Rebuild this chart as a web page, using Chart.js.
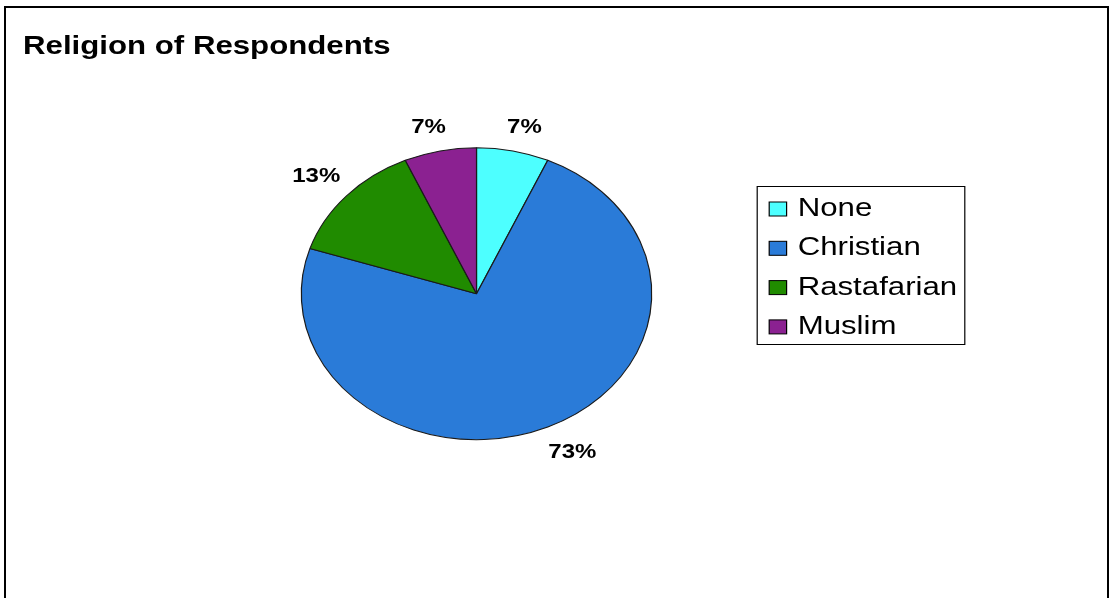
<!DOCTYPE html>
<html>
<head>
<meta charset="utf-8">
<title>Religion of Respondents</title>
<script src="https://cdn.jsdelivr.net/npm/chart.js@4"></script>
<style>
  html, body { margin: 0; padding: 0; background: #fff; overflow: hidden; }
  #frame {
    position: absolute; left: 4px; top: 6px;
    width: 1101px; height: 640px;
    border: 2px solid #000; border-bottom: none;
  }
  #wrap { position: absolute; left: 0; top: 0; width: 1110px; height: 598px; }
</style>
</head>
<body>
<div id="frame"></div>
<div id="wrap"><canvas id="religionChart"></canvas></div>
<script>
// Respondent counts by religion
const religions = ["None", "Christian", "Rastafarian", "Muslim"];
const respondents = [1, 11, 2, 1];
const sliceColors = ["#4dffff", "#2a7bd8", "#208b00", "#8b2191"];
const chartTitle = "Religion of Respondents";

// The whole chart is drawn horizontally stretched, so the pie comes out as an oval
const SX = 1.2;
const FONT = "Arial, 'Liberation Sans', sans-serif";

const clamp = (v) => Math.max(-1, Math.min(1, v));

const stretchAndDecorate = {
  id: "stretchAndDecorate",
  beforeDraw(chart) {
    chart.ctx.save();
    chart.ctx.scale(SX, 1);
  },
  afterDatasetsDraw(chart) {
    // percentage labels just outside each slice, pushed out by half the text box
    const ctx = chart.ctx;
    const meta = chart.getDatasetMeta(0);
    const values = chart.data.datasets[0].data;
    const total = values.reduce((a, b) => a + b, 0);
    ctx.save();
    ctx.font = "bold 20px " + FONT;
    ctx.fillStyle = "#000";
    ctx.textAlign = "center";
    ctx.textBaseline = "alphabetic";
    meta.data.forEach((arc, i) => {
      const label = Math.round(values[i] / total * 100) + "%";
      const mid = (arc.startAngle + arc.endAngle) / 2;
      const w = ctx.measureText(label).width;
      const c = Math.cos(mid), s = Math.sin(mid);
      const r = arc.outerRadius + 13.5;
      const x = arc.x + c * r + clamp(c * 3) * 0.75 * w / 2;
      const y = arc.y + s * r + clamp(s * 2.5) * 11.5;
      ctx.fillText(label, x, y + 7);
    });
    ctx.restore();
  },
  afterDraw(chart) {
    const ctx = chart.ctx;
    ctx.save();
    // title
    ctx.fillStyle = "#000";
    ctx.font = "bold 26px " + FONT;
    ctx.textAlign = "left";
    ctx.textBaseline = "alphabetic";
    ctx.fillText(chartTitle, 19.2, 54);

    // legend box
    ctx.lineWidth = 1;
    ctx.strokeStyle = "#000";
    ctx.strokeRect(631, 186.5, 173, 158);
    ctx.font = "26px " + FONT;
    chart.data.labels.forEach((lab, i) => {
      const base = 216 + i * 39.3;
      ctx.fillStyle = chart.data.datasets[0].backgroundColor[i];
      ctx.fillRect(641, base - 14, 14.5, 14);
      ctx.strokeRect(641, base - 14, 14.5, 14);
      ctx.fillStyle = "#000";
      ctx.fillText(lab, 664.7, base);
    });
    ctx.restore();
    ctx.restore();
  }
};

const ctx = document.getElementById("religionChart").getContext("2d");
const religionChart = new Chart(ctx, {
  type: "pie",
  data: {
    labels: religions,
    datasets: [{
      data: respondents,
      backgroundColor: sliceColors,
      borderColor: "#1a1a1a",
      borderWidth: 1,
      hoverOffset: 0,
      clip: false
    }]
  },
  options: {
    responsive: true,
    maintainAspectRatio: false,
    devicePixelRatio: 1,
    animation: false,
    events: [],
    layout: {
      padding: { left: 250.6, right: 566.4, top: 147.2, bottom: 157.8 }
    },
    plugins: {
      legend: { display: false },
      tooltip: { enabled: false },
      title: { display: false }
    }
  },
  plugins: [stretchAndDecorate]
});
</script>
</body>
</html>
